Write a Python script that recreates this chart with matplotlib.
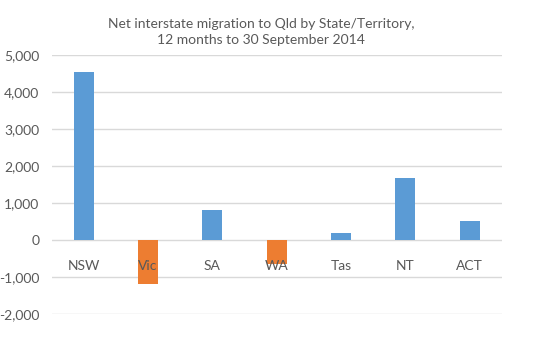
import matplotlib
matplotlib.use("Agg")
import matplotlib.pyplot as plt
from matplotlib.ticker import FuncFormatter

states = ["NSW", "Vic", "SA", "WA", "Tas", "NT", "ACT"]
migration = [4550, -1170, 820, -630, 200, 1690, 520]

blue = "#5B9BD5"
orange = "#ED7D31"
text_col = "#595959"

plt.rcParams["font.family"] = ["Lato", "DejaVu Sans"]

fig = plt.figure(figsize=(5.38, 3.42), dpi=100)
ax = fig.add_axes([0.096, 0.081, 0.8365, 0.757])

colors = [blue if v >= 0 else orange for v in migration]
x = range(len(states))
ax.bar(x, migration, width=0.31, color=colors, zorder=2)

ax.set_xlim(-0.5, len(states) - 0.5)
ax.set_ylim(-2000, 5000)
ax.set_yticks(range(-2000, 5001, 1000))
ax.yaxis.set_major_formatter(FuncFormatter(lambda v, p: f"{int(v):,}"))
ax.grid(axis="y", color="#D9D9D9", linewidth=1)
ax.set_axisbelow(True)
ax.tick_params(axis="y", length=0, pad=9, labelsize=10, labelcolor=text_col)
ax.set_xticks([])
for s in ax.spines.values():
    s.set_visible(False)

# category labels sit just under the zero line, on top of the bars
for i, name in enumerate(states):
    ax.annotate(name, (i, 0), xytext=(0, -14), textcoords="offset points",
                ha="center", va="top", fontsize=10, color=text_col, zorder=3)

fig.text(261 / 538, 1 - 32 / 342,
         "Net interstate migration to Qld by State/Territory,\n12 months to 30 September 2014",
         ha="center", va="center", fontsize=10, color=text_col, linespacing=1.5)

fig.savefig("out.png", dpi=100)
